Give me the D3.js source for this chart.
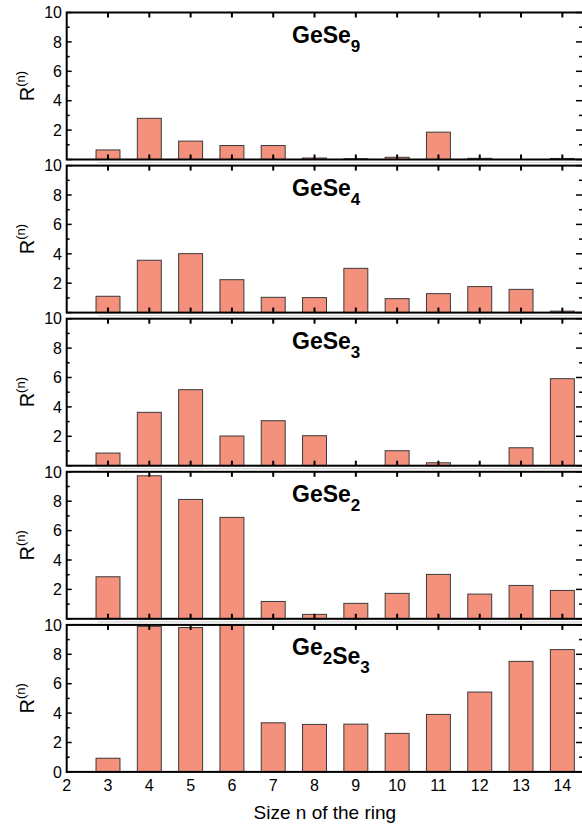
<!DOCTYPE html>
<html>
<head>
<meta charset="utf-8">
<script src="https://cdn.jsdelivr.net/npm/d3@7"></script>
<style>
html,body{margin:0;padding:0;background:#fff;}
svg{display:block;font-family:"Liberation Sans",Arial,Helvetica,sans-serif;}
</style>
</head>
<body>
<svg id="chart" width="582" height="826"></svg>
<script>
// ---- data ----
const ringSizes = [3,4,5,6,7,8,9,10,11,12,13,14];
const compounds = [
  {base:[["Ge",""],["Se","9"]]},
  {base:[["Ge",""],["Se","4"]]},
  {base:[["Ge",""],["Se","3"]]},
  {base:[["Ge",""],["Se","2"]]},
  {base:[["Ge","2"],["Se","3"]]}
];
const gese9  = [0.65,2.8,1.25,0.95,0.95,0.1,0.05,0.15,1.86,0.08,0,0.07];
const gese4  = [1.11,3.56,4.01,2.24,1.04,1.02,3.01,0.95,1.29,1.77,1.58,0.1];
const gese3  = [0.86,3.63,5.17,2.02,3.06,2.04,0,1.02,0.2,0,1.22,5.92];
const gese2  = [2.86,9.73,8.12,6.9,1.18,0.3,1.05,1.73,3.02,1.68,2.27,1.93];
const ge2se3 = [0.93,9.9,9.82,9.98,3.34,3.23,3.25,2.62,3.91,5.43,7.52,8.32];
const seriesList = [gese9, gese4, gese3, gese2, ge2se3];
const xTicks = [2,3,4,5,6,7,8,9,10,11,12,13,14];
const yMajor = [0,2,4,6,8,10];
const yMinor = [1,3,5,7,9];
const xTitle = "Size n of the ring";

// ---- layout ----
const svg = d3.select("#chart");
const left = 66.7, right = 583;
const panelTop0 = 12.5, panelStep = 153.1, panelH = 147;
const x = d3.scaleLinear().domain([2,14.5]).range([left,right]);
const barW = x(2.58) - x(2);
const fillC = "#f3917c", strokeC = "#3a3a3a";

seriesList.forEach((vals, i) => {
  const top = panelTop0 + i*panelStep, bottom = top + panelH;
  const y = d3.scaleLinear().domain([0,10]).range([bottom, top]);
  const g = svg.append("g");
  const last = i === seriesList.length - 1;

  // faint line in the gap between panels
  if (!last) {
    g.append("line").attr("x1", x(2.75)).attr("x2", 582)
      .attr("y1", bottom + 3).attr("y2", bottom + 3)
      .attr("stroke", "#d6d6d6").attr("stroke-width", 1.2);
  }

  // bars
  const data = ringSizes.map((n,k)=>({n, v: vals[k]}));
  g.selectAll("rect.bar").data(data.filter(d=>d.v>0)).enter().append("rect")
    .attr("class","bar")
    .attr("x", d => x(d.n) - barW/2)
    .attr("width", barW)
    .attr("y", d => y(Math.min(d.v,10)))
    .attr("height", d => bottom - y(Math.min(d.v,10)))
    .attr("fill", fillC)
    .attr("stroke", strokeC)
    .attr("stroke-width", 1);

  // top ticks (inward)
  g.selectAll("line.tt").data(xTicks.slice(1)).enter().append("line")
    .attr("x1", d=>x(d)).attr("x2", d=>x(d))
    .attr("y1", top).attr("y2", top+5)
    .attr("stroke","#000").attr("stroke-width",2);
  // bottom ticks (inward)
  if (!last) {
    g.selectAll("line.bt").data(xTicks.slice(1)).enter().append("line")
      .attr("x1", d=>x(d)).attr("x2", d=>x(d))
      .attr("y1", bottom).attr("y2", bottom-5)
      .attr("stroke","#000").attr("stroke-width",2);
  }

  // left axis ticks
  g.selectAll("line.lM").data(yMajor).enter().append("line")
    .attr("x1", left).attr("x2", left+5)
    .attr("y1", d=>y(d)).attr("y2", d=>y(d))
    .attr("stroke","#000").attr("stroke-width",1.5);
  g.selectAll("line.lm").data(yMinor).enter().append("line")
    .attr("x1", left).attr("x2", left+3)
    .attr("y1", d=>y(d)).attr("y2", d=>y(d))
    .attr("stroke","#000").attr("stroke-width",1.5);
  // right axis ticks
  g.selectAll("line.rM").data(yMajor).enter().append("line")
    .attr("x1", 582).attr("x2", 576)
    .attr("y1", d=>y(d)).attr("y2", d=>y(d))
    .attr("stroke","#000").attr("stroke-width",1.5);
  g.selectAll("line.rm").data(yMinor).enter().append("line")
    .attr("x1", 582).attr("x2", 579)
    .attr("y1", d=>y(d)).attr("y2", d=>y(d))
    .attr("stroke","#000").attr("stroke-width",1.5);

  // frame
  g.append("rect").attr("x", left).attr("y", top)
    .attr("width", right-left).attr("height", panelH)
    .attr("fill","none").attr("stroke","#000").attr("stroke-width",2);

  // y tick labels
  const labs = last ? yMajor : yMajor.filter(d=>d>0);
  g.selectAll("text.yl").data(labs).enter().append("text")
    .attr("x", 62).attr("y", d=>y(d)).attr("dy","0.36em")
    .attr("text-anchor","end").attr("font-size",16).attr("fill","#000")
    .text(d=>d);

  // y axis title R^(n)
  const yt = g.append("text")
    .attr("transform", `translate(34,${(top+bottom)/2}) rotate(-90)`)
    .attr("text-anchor","middle").attr("font-size",20).attr("fill","#000");
  yt.append("tspan").text("R");
  yt.append("tspan").attr("font-size",13).attr("dy",-9).text("(n)");

  // panel title
  const tt = g.append("text").attr("x", 292).attr("y", top+30)
    .attr("font-size",23).attr("font-weight","bold").attr("fill","#000");
  compounds[i].base.forEach(([el, sub]) => {
    tt.append("tspan").attr("dy", 0).text(el);
    if (sub) {
      tt.append("tspan").attr("font-size",17).attr("dy",9).text(sub);
      tt.append("tspan").attr("dy",-9).text("");
    }
  });

  // x labels for last panel
  if (last) {
    g.selectAll("text.xl").data(xTicks).enter().append("text")
      .attr("x", d=>x(d)).attr("y", bottom+19)
      .attr("text-anchor","middle").attr("font-size",16).attr("fill","#000")
      .text(d=>d);
    g.append("text").attr("x", (left+right)/2).attr("y", bottom+47)
      .attr("text-anchor","middle").attr("font-size",19).attr("fill","#000")
      .text(xTitle);
  }
});
</script>
</body>
</html>
